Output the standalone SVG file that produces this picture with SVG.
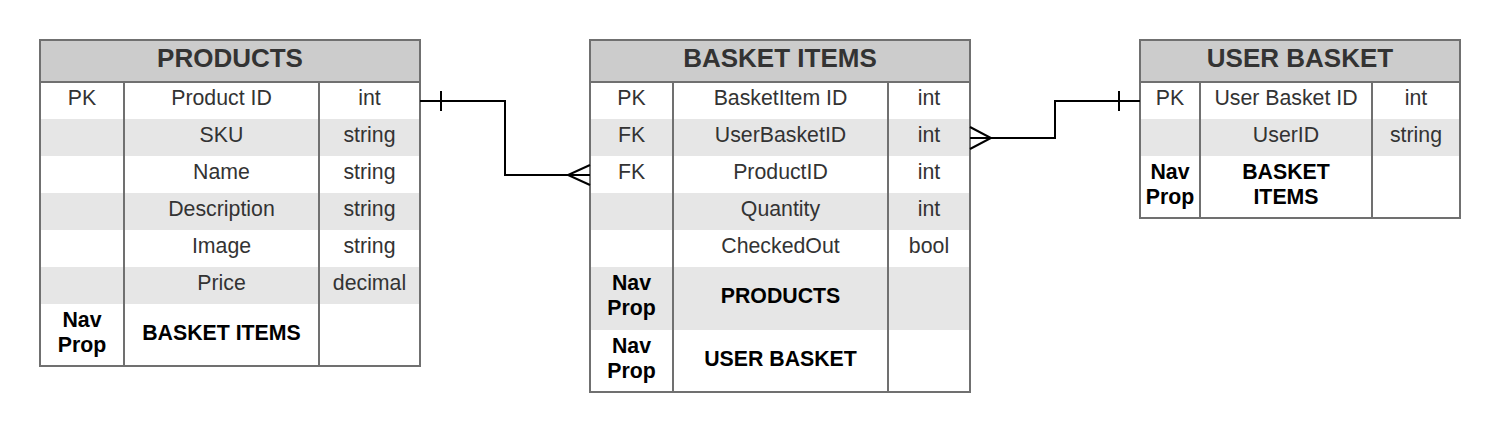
<svg xmlns="http://www.w3.org/2000/svg" width="1500" height="433" viewBox="0 0 1500 433">
<style>
text{font-family:"Liberation Sans",Arial,sans-serif;text-anchor:middle}
.hd{font-size:26px;font-weight:bold;fill:#333}
.tx{font-size:21.3px;fill:#333}
.nv{font-size:21.3px;font-weight:bold;fill:#000}
.hf{fill:#cccccc}
.sh{fill:#e6e6e6}
.bd{fill:none;stroke:#707070;stroke-width:2}
.ln{stroke:#707070;stroke-width:2}
.cn{fill:none;stroke:#000;stroke-width:2}
</style>
<rect width="1500" height="433" fill="#fff"/>
<g id="products">
<rect class="hf" x="40" y="40" width="380" height="42"/>
<rect class="sh" x="40" y="119" width="380" height="37"/>
<rect class="sh" x="40" y="193" width="380" height="37"/>
<rect class="sh" x="40" y="267" width="380" height="37"/>
<rect class="bd" x="40" y="40" width="380" height="326"/>
<line class="ln" x1="40" y1="82" x2="420" y2="82"/>
<line class="ln" x1="124" y1="82" x2="124" y2="366"/>
<line class="ln" x1="319" y1="82" x2="319" y2="366"/>
<text class="hd" x="230" y="67">PRODUCTS</text>
<text class="tx" x="82" y="105">PK</text><text class="tx" x="221.5" y="105">Product ID</text><text class="tx" x="369.5" y="105">int</text>
<text class="tx" x="221.5" y="142">SKU</text><text class="tx" x="369.5" y="142">string</text>
<text class="tx" x="221.5" y="179">Name</text><text class="tx" x="369.5" y="179">string</text>
<text class="tx" x="221.5" y="216">Description</text><text class="tx" x="369.5" y="216">string</text>
<text class="tx" x="221.5" y="253">Image</text><text class="tx" x="369.5" y="253">string</text>
<text class="tx" x="221.5" y="290">Price</text><text class="tx" x="369.5" y="290">decimal</text>
<text class="nv" x="82" y="327">Nav</text><text class="nv" x="82" y="352">Prop</text>
<text class="nv" x="221.5" y="339.5">BASKET ITEMS</text>
</g>
<g id="basket-items">
<rect class="hf" x="590" y="40" width="380" height="42"/>
<rect class="sh" x="590" y="119" width="380" height="37"/>
<rect class="sh" x="590" y="193" width="380" height="37"/>
<rect class="sh" x="590" y="267" width="380" height="63"/>
<rect class="bd" x="590" y="40" width="380" height="352"/>
<line class="ln" x1="590" y1="82" x2="970" y2="82"/>
<line class="ln" x1="673" y1="82" x2="673" y2="392"/>
<line class="ln" x1="888" y1="82" x2="888" y2="392"/>
<text class="hd" x="780" y="67">BASKET ITEMS</text>
<text class="tx" x="631.5" y="105">PK</text><text class="tx" x="780.5" y="105">BasketItem ID</text><text class="tx" x="929" y="105">int</text>
<text class="tx" x="631.5" y="142">FK</text><text class="tx" x="780.5" y="142">UserBasketID</text><text class="tx" x="929" y="142">int</text>
<text class="tx" x="631.5" y="179">FK</text><text class="tx" x="780.5" y="179">ProductID</text><text class="tx" x="929" y="179">int</text>
<text class="tx" x="780.5" y="216">Quantity</text><text class="tx" x="929" y="216">int</text>
<text class="tx" x="780.5" y="253">CheckedOut</text><text class="tx" x="929" y="253">bool</text>
<text class="nv" x="631.5" y="290">Nav</text><text class="nv" x="631.5" y="315">Prop</text>
<text class="nv" x="780.5" y="303">PRODUCTS</text>
<text class="nv" x="631.5" y="352.5">Nav</text><text class="nv" x="631.5" y="377.5">Prop</text>
<text class="nv" x="780.5" y="365.5">USER BASKET</text>
</g>
<g id="user-basket">
<rect class="hf" x="1140" y="40" width="320" height="42"/>
<rect class="sh" x="1140" y="119" width="320" height="37"/>
<rect class="bd" x="1140" y="40" width="320" height="178"/>
<line class="ln" x1="1140" y1="82" x2="1460" y2="82"/>
<line class="ln" x1="1200" y1="82" x2="1200" y2="218"/>
<line class="ln" x1="1372" y1="82" x2="1372" y2="218"/>
<text class="hd" x="1300" y="67">USER BASKET</text>
<text class="tx" x="1170" y="105">PK</text><text class="tx" x="1286" y="105">User Basket ID</text><text class="tx" x="1416" y="105">int</text>
<text class="tx" x="1286" y="142">UserID</text><text class="tx" x="1416" y="142">string</text>
<text class="nv" x="1170" y="179">Nav</text><text class="nv" x="1170" y="204">Prop</text>
<text class="nv" x="1286" y="179">BASKET</text><text class="nv" x="1286" y="204">ITEMS</text>
</g>
<g id="connectors">
<path class="cn" d="M420 101H505V175H590"/>
<path class="cn" d="M441 91V111"/>
<path class="cn" d="M590 165L568 175L590 185"/>
<path class="cn" d="M970 138H1055V101H1140"/>
<path class="cn" d="M1119 91V111"/>
<path class="cn" d="M970 127L991 138L970 149"/>
</g>
</svg>
